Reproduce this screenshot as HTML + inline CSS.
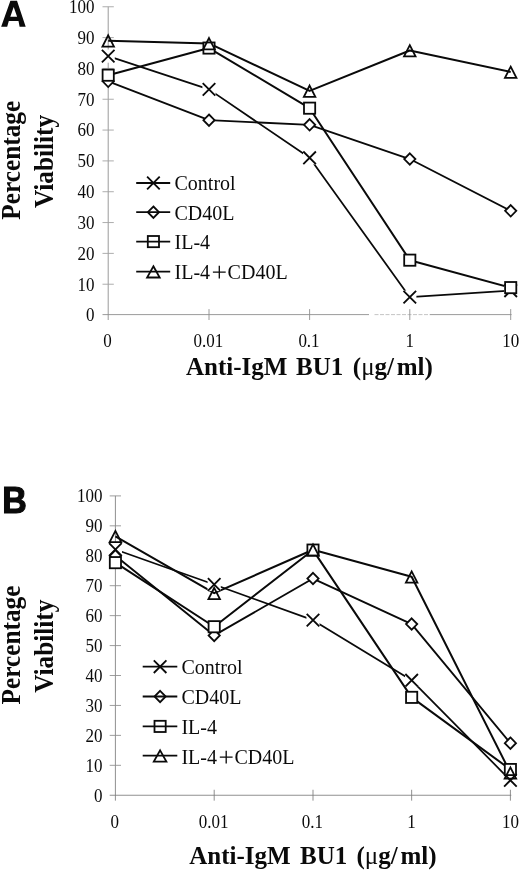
<!DOCTYPE html>
<html><head><meta charset="utf-8"><title>Figure</title>
<style>
html,body{margin:0;padding:0;background:#fff;}
body{width:520px;height:871px;overflow:hidden;font-family:"Liberation Serif",serif;}
svg{display:block;}
text{fill:#0a0a0a;}
</style></head><body>
<svg width="520" height="871" viewBox="0 0 520 871">
<defs><filter id="gray" filterUnits="userSpaceOnUse" x="0" y="0" width="520" height="871" color-interpolation-filters="sRGB"><feColorMatrix type="saturate" values="0"/></filter></defs>
<g filter="url(#gray)">
<rect width="520" height="871" fill="#fff"/>
<path fill="#0a0a0a" fill-rule="evenodd" d="M1.15 26.8L10.4 0.87H17L25.7 26.8H19.6L18.5 21.06H8.8L7.2 26.8ZM13.7 6.9L17.1 16.7H10.3Z"/>
<g stroke="#8e8e8e" stroke-width="0.9" fill="none"><path d="M108.2 6.75V320.00"/><path d="M102.50 314.6H369.0M430.0 314.6H511.60"/><path d="M374.5 314.6H430.0" stroke="#bdbdbd" stroke-dasharray="4 1.5"/><path d="M102.50 6.75H113.80" stroke="#a4a4a4"/><path d="M102.50 37.58H113.80" stroke="#a4a4a4"/><path d="M102.50 68.41H113.80" stroke="#a4a4a4"/><path d="M102.50 99.24H113.80" stroke="#a4a4a4"/><path d="M102.50 130.07H113.80" stroke="#a4a4a4"/><path d="M102.50 160.90H113.80" stroke="#a4a4a4"/><path d="M102.50 191.73H113.80" stroke="#a4a4a4"/><path d="M102.50 222.56H113.80" stroke="#a4a4a4"/><path d="M102.50 253.39H113.80" stroke="#a4a4a4"/><path d="M102.50 284.22H113.80" stroke="#a4a4a4"/><path d="M209.0 309.10V320.00"/><path d="M309.6 309.10V320.00"/><path d="M409.8 309.10V320.00"/><path d="M510.7 309.10V320.00"/></g>
<g font-family="Liberation Serif, serif" font-size="17" text-anchor="end"><text transform="translate(94.6 13.15) scale(1 1.05)">100</text><text transform="translate(94.6 43.98) scale(1 1.05)">90</text><text transform="translate(94.6 74.81) scale(1 1.05)">80</text><text transform="translate(94.6 105.64) scale(1 1.05)">70</text><text transform="translate(94.6 136.47) scale(1 1.05)">60</text><text transform="translate(94.6 167.30) scale(1 1.05)">50</text><text transform="translate(94.6 198.13) scale(1 1.05)">40</text><text transform="translate(94.6 228.96) scale(1 1.05)">30</text><text transform="translate(94.6 259.79) scale(1 1.05)">20</text><text transform="translate(94.6 290.62) scale(1 1.05)">10</text><text transform="translate(94.6 321.45) scale(1 1.05)">0</text></g>
<g font-family="Liberation Serif, serif" font-size="17" text-anchor="middle"><text transform="translate(107.60 347.0) scale(1 1.05)">0</text><text transform="translate(208.40 347.0) scale(1 1.05)">0.01</text><text transform="translate(309.00 347.0) scale(1 1.05)">0.1</text><text transform="translate(409.70 347.0) scale(1 1.05)">1</text><text transform="translate(510.80 347.0) scale(1 1.05)">10</text></g>
<g font-family="Liberation Serif, serif" font-weight="bold" font-size="25.3" text-anchor="middle"><text transform="translate(19.7 160.30) rotate(-90) scale(1 1.05)">Percentage</text><text transform="translate(52.5 161.50) rotate(-90) scale(1 1.05)">Viability</text></g>
<g font-family="Liberation Serif, serif" font-weight="bold" font-size="25"><text x="186.0" y="375.2">Anti-IgM</text><text x="296.1" y="375.2">BU1</text><text x="352.8" y="375.2">(<tspan font-weight="normal">&#956;</tspan>g/<tspan dx="2.8">ml)</tspan></text></g>
<polyline points="108.20,56.08 209.00,89.37 309.60,157.82 409.80,297.17 510.70,290.69" fill="none" stroke="#0a0a0a" stroke-width="1.75" stroke-linejoin="round"/>
<polyline points="108.20,81.36 209.00,120.20 309.60,124.83 409.80,159.05 510.70,210.84" fill="none" stroke="#0a0a0a" stroke-width="1.8" stroke-linejoin="round"/>
<polyline points="108.20,75.19 209.00,48.06 309.60,108.18 409.80,260.17 510.70,287.61" fill="none" stroke="#0a0a0a" stroke-width="2.0" stroke-linejoin="round"/>
<polyline points="108.20,40.66 209.00,43.44 309.60,90.92 409.80,50.53 510.70,71.96" fill="none" stroke="#0a0a0a" stroke-width="2.0" stroke-linejoin="round"/>
<rect x="101.60" y="49.48" width="13.2" height="13.2" fill="#fff"/><path d="M101.90 49.78L114.50 62.38M101.90 62.38L114.50 49.78" stroke="#0a0a0a" stroke-width="1.85" fill="none"/><rect x="202.40" y="82.77" width="13.2" height="13.2" fill="#fff"/><path d="M202.70 83.07L215.30 95.67M202.70 95.67L215.30 83.07" stroke="#0a0a0a" stroke-width="1.85" fill="none"/><rect x="303.00" y="151.22" width="13.2" height="13.2" fill="#fff"/><path d="M303.30 151.52L315.90 164.12M303.30 164.12L315.90 151.52" stroke="#0a0a0a" stroke-width="1.85" fill="none"/><rect x="403.20" y="290.57" width="13.2" height="13.2" fill="#fff"/><path d="M403.50 290.87L416.10 303.47M403.50 303.47L416.10 290.87" stroke="#0a0a0a" stroke-width="1.85" fill="none"/><rect x="504.10" y="284.09" width="13.2" height="13.2" fill="#fff"/><path d="M504.40 284.39L517.00 296.99M504.40 296.99L517.00 284.39" stroke="#0a0a0a" stroke-width="1.85" fill="none"/>
<path d="M108.20 75.66L113.80 81.36L108.20 87.06L102.60 81.36Z" stroke="#0a0a0a" stroke-width="1.8" fill="#fff" stroke-linejoin="miter"/><path d="M209.00 114.50L214.60 120.20L209.00 125.90L203.40 120.20Z" stroke="#0a0a0a" stroke-width="1.8" fill="#fff" stroke-linejoin="miter"/><path d="M309.60 119.13L315.20 124.83L309.60 130.53L304.00 124.83Z" stroke="#0a0a0a" stroke-width="1.8" fill="#fff" stroke-linejoin="miter"/><path d="M409.80 153.35L415.40 159.05L409.80 164.75L404.20 159.05Z" stroke="#0a0a0a" stroke-width="1.8" fill="#fff" stroke-linejoin="miter"/><path d="M510.70 205.14L516.30 210.84L510.70 216.54L505.10 210.84Z" stroke="#0a0a0a" stroke-width="1.8" fill="#fff" stroke-linejoin="miter"/>
<rect x="102.60" y="69.59" width="11.20" height="11.20" stroke="#0a0a0a" stroke-width="1.8" fill="#fff"/><rect x="203.40" y="42.46" width="11.20" height="11.20" stroke="#0a0a0a" stroke-width="1.8" fill="#fff"/><rect x="304.00" y="102.58" width="11.20" height="11.20" stroke="#0a0a0a" stroke-width="1.8" fill="#fff"/><rect x="404.20" y="254.57" width="11.20" height="11.20" stroke="#0a0a0a" stroke-width="1.8" fill="#fff"/><rect x="505.10" y="282.01" width="11.20" height="11.20" stroke="#0a0a0a" stroke-width="1.8" fill="#fff"/>
<path d="M108.20 35.31L113.95 46.56L102.45 46.56Z" stroke="#0a0a0a" stroke-width="1.8" fill="none" stroke-linejoin="miter"/><path d="M209.00 38.09L214.75 49.34L203.25 49.34Z" stroke="#0a0a0a" stroke-width="1.8" fill="none" stroke-linejoin="miter"/><path d="M309.60 85.57L315.35 96.82L303.85 96.82Z" stroke="#0a0a0a" stroke-width="1.8" fill="none" stroke-linejoin="miter"/><path d="M409.80 45.18L415.55 56.43L404.05 56.43Z" stroke="#0a0a0a" stroke-width="1.8" fill="none" stroke-linejoin="miter"/><path d="M510.70 66.61L516.45 77.86L504.95 77.86Z" stroke="#0a0a0a" stroke-width="1.8" fill="none" stroke-linejoin="miter"/>
<path d="M147.10 176.70L159.70 189.30M147.10 189.30L159.70 176.70" stroke="#0a0a0a" stroke-width="1.85" fill="none"/>
<path d="M136.2 183.0H170.2" stroke="#0a0a0a" stroke-width="1.8"/>
<text x="174.5" y="190.30" font-family="Liberation Serif, serif" font-size="20">Control</text>
<path d="M153.40 206.50L159.00 212.20L153.40 217.90L147.80 212.20Z" stroke="#0a0a0a" stroke-width="1.8" fill="none" stroke-linejoin="miter"/>
<path d="M136.2 212.2H170.2" stroke="#0a0a0a" stroke-width="1.8"/>
<text x="174.5" y="219.50" font-family="Liberation Serif, serif" font-size="20">CD40L</text>
<rect x="147.80" y="236.00" width="11.20" height="11.20" stroke="#0a0a0a" stroke-width="1.8" fill="none"/>
<path d="M136.2 241.6H170.2" stroke="#0a0a0a" stroke-width="1.8"/>
<text x="174.5" y="248.90" font-family="Liberation Serif, serif" font-size="20">IL-4</text>
<path d="M153.40 266.25L159.70 277.50L147.10 277.50Z" stroke="#0a0a0a" stroke-width="1.8" fill="none" stroke-linejoin="miter"/>
<path d="M136.2 271.6H170.2" stroke="#0a0a0a" stroke-width="1.8"/>
<g font-family="Liberation Serif, serif" font-size="20"><text x="174.5" y="278.90">IL-4</text><path d="M212.90 272.20h12.8M219.30 265.80v12.8" stroke="#0a0a0a" stroke-width="1.3" fill="none"/><text x="227.60" y="278.90">CD40L</text></g>
<text transform="translate(2.15 512.95) scale(1 1.065)" font-family="Liberation Sans, sans-serif" font-weight="bold" font-size="34" stroke="#0a0a0a" stroke-width="1.1" stroke-linejoin="miter">B</text>
<g stroke="#7c7c7c" stroke-width="0.85" fill="none"><path d="M115.4 495.9V800.65"/><path d="M109.70 795.25H511.30"/><path d="M109.70 495.90H121.00" stroke="#8c8c8c"/><path d="M109.70 525.84H121.00" stroke="#8c8c8c"/><path d="M109.70 555.77H121.00" stroke="#8c8c8c"/><path d="M109.70 585.70H121.00" stroke="#8c8c8c"/><path d="M109.70 615.64H121.00" stroke="#8c8c8c"/><path d="M109.70 645.58H121.00" stroke="#8c8c8c"/><path d="M109.70 675.51H121.00" stroke="#8c8c8c"/><path d="M109.70 705.44H121.00" stroke="#8c8c8c"/><path d="M109.70 735.38H121.00" stroke="#8c8c8c"/><path d="M109.70 765.32H121.00" stroke="#8c8c8c"/><path d="M214.2 789.75V800.65"/><path d="M313.0 789.75V800.65"/><path d="M411.65 789.75V800.65"/><path d="M510.4 789.75V800.65"/></g>
<g font-family="Liberation Serif, serif" font-size="17" text-anchor="end"><text transform="translate(102.4 502.30) scale(1 1.06)">100</text><text transform="translate(102.4 532.24) scale(1 1.06)">90</text><text transform="translate(102.4 562.17) scale(1 1.06)">80</text><text transform="translate(102.4 592.10) scale(1 1.06)">70</text><text transform="translate(102.4 622.04) scale(1 1.06)">60</text><text transform="translate(102.4 651.98) scale(1 1.06)">50</text><text transform="translate(102.4 681.91) scale(1 1.06)">40</text><text transform="translate(102.4 711.84) scale(1 1.06)">30</text><text transform="translate(102.4 741.78) scale(1 1.06)">20</text><text transform="translate(102.4 771.72) scale(1 1.06)">10</text><text transform="translate(102.4 801.65) scale(1 1.06)">0</text></g>
<g font-family="Liberation Serif, serif" font-size="17" text-anchor="middle"><text transform="translate(114.80 827.6) scale(1 1.06)">0</text><text transform="translate(213.60 827.6) scale(1 1.06)">0.01</text><text transform="translate(312.40 827.6) scale(1 1.06)">0.1</text><text transform="translate(411.55 827.6) scale(1 1.06)">1</text><text transform="translate(510.50 827.6) scale(1 1.06)">10</text></g>
<g font-family="Liberation Serif, serif" font-weight="bold" font-size="25.3" text-anchor="middle"><text transform="translate(20.4 644.98) rotate(-90) scale(1 1.05)">Percentage</text><text transform="translate(52.9 646.18) rotate(-90) scale(1 1.05)">Viability</text></g>
<g font-family="Liberation Serif, serif" font-weight="bold" font-size="25"><text x="189.3" y="863.7">Anti-IgM</text><text x="300.1" y="863.7">BU1</text><text x="356.4" y="863.7">(<tspan font-weight="normal">&#956;</tspan>g/<tspan dx="2.8">ml)</tspan></text></g>
<polyline points="115.40,549.48 214.20,584.51 313.00,620.13 411.65,680.30 510.40,780.28" fill="none" stroke="#0a0a0a" stroke-width="1.75" stroke-linejoin="round"/>
<polyline points="115.40,555.77 214.20,635.40 313.00,578.52 411.65,624.02 510.40,743.16" fill="none" stroke="#0a0a0a" stroke-width="1.9" stroke-linejoin="round"/>
<polyline points="115.40,562.66 214.20,626.72 313.00,550.08 411.65,697.36 510.40,769.51" fill="none" stroke="#0a0a0a" stroke-width="2.0" stroke-linejoin="round"/>
<polyline points="115.40,536.31 214.20,593.19 313.00,549.78 411.65,576.72 510.40,772.80" fill="none" stroke="#0a0a0a" stroke-width="2.0" stroke-linejoin="round"/>
<rect x="108.80" y="542.88" width="13.2" height="13.2" fill="#fff"/><path d="M109.10 543.18L121.70 555.78M109.10 555.78L121.70 543.18" stroke="#0a0a0a" stroke-width="1.85" fill="none"/><rect x="207.60" y="577.91" width="13.2" height="13.2" fill="#fff"/><path d="M207.90 578.21L220.50 590.81M207.90 590.81L220.50 578.21" stroke="#0a0a0a" stroke-width="1.85" fill="none"/><rect x="306.40" y="613.53" width="13.2" height="13.2" fill="#fff"/><path d="M306.70 613.83L319.30 626.43M306.70 626.43L319.30 613.83" stroke="#0a0a0a" stroke-width="1.85" fill="none"/><rect x="405.05" y="673.70" width="13.2" height="13.2" fill="#fff"/><path d="M405.35 674.00L417.95 686.60M405.35 686.60L417.95 674.00" stroke="#0a0a0a" stroke-width="1.85" fill="none"/><rect x="503.80" y="773.68" width="13.2" height="13.2" fill="#fff"/><path d="M504.10 773.98L516.70 786.58M504.10 786.58L516.70 773.98" stroke="#0a0a0a" stroke-width="1.85" fill="none"/>
<path d="M115.40 550.07L121.00 555.77L115.40 561.47L109.80 555.77Z" stroke="#0a0a0a" stroke-width="1.8" fill="#fff" stroke-linejoin="miter"/><path d="M214.20 629.70L219.80 635.40L214.20 641.10L208.60 635.40Z" stroke="#0a0a0a" stroke-width="1.8" fill="#fff" stroke-linejoin="miter"/><path d="M313.00 572.82L318.60 578.52L313.00 584.22L307.40 578.52Z" stroke="#0a0a0a" stroke-width="1.8" fill="#fff" stroke-linejoin="miter"/><path d="M411.65 618.32L417.25 624.02L411.65 629.72L406.05 624.02Z" stroke="#0a0a0a" stroke-width="1.8" fill="#fff" stroke-linejoin="miter"/><path d="M510.40 737.46L516.00 743.16L510.40 748.86L504.80 743.16Z" stroke="#0a0a0a" stroke-width="1.8" fill="#fff" stroke-linejoin="miter"/>
<rect x="109.80" y="557.06" width="11.20" height="11.20" stroke="#0a0a0a" stroke-width="1.8" fill="#fff"/><rect x="208.60" y="621.12" width="11.20" height="11.20" stroke="#0a0a0a" stroke-width="1.8" fill="#fff"/><rect x="307.40" y="544.48" width="11.20" height="11.20" stroke="#0a0a0a" stroke-width="1.8" fill="#fff"/><rect x="406.05" y="691.76" width="11.20" height="11.20" stroke="#0a0a0a" stroke-width="1.8" fill="#fff"/><rect x="504.80" y="763.91" width="11.20" height="11.20" stroke="#0a0a0a" stroke-width="1.8" fill="#fff"/>
<path d="M115.40 530.96L121.15 542.21L109.65 542.21Z" stroke="#0a0a0a" stroke-width="1.8" fill="none" stroke-linejoin="miter"/><path d="M214.20 587.84L219.95 599.09L208.45 599.09Z" stroke="#0a0a0a" stroke-width="1.8" fill="none" stroke-linejoin="miter"/><path d="M313.00 544.43L318.75 555.68L307.25 555.68Z" stroke="#0a0a0a" stroke-width="1.8" fill="none" stroke-linejoin="miter"/><path d="M411.65 571.37L417.40 582.62L405.90 582.62Z" stroke="#0a0a0a" stroke-width="1.8" fill="none" stroke-linejoin="miter"/><path d="M510.40 767.45L516.15 778.70L504.65 778.70Z" stroke="#0a0a0a" stroke-width="1.8" fill="none" stroke-linejoin="miter"/>
<path d="M153.80 660.40L166.40 673.00M153.80 673.00L166.40 660.40" stroke="#0a0a0a" stroke-width="1.85" fill="none"/>
<path d="M142.7 666.7H177.3" stroke="#0a0a0a" stroke-width="1.8"/>
<text x="181.4" y="674.00" font-family="Liberation Serif, serif" font-size="20">Control</text>
<path d="M160.10 690.80L165.70 696.50L160.10 702.20L154.50 696.50Z" stroke="#0a0a0a" stroke-width="1.8" fill="none" stroke-linejoin="miter"/>
<path d="M142.7 696.5H177.3" stroke="#0a0a0a" stroke-width="1.8"/>
<text x="181.4" y="703.70" font-family="Liberation Serif, serif" font-size="20">CD40L</text>
<rect x="154.50" y="720.80" width="11.20" height="11.20" stroke="#0a0a0a" stroke-width="1.8" fill="none"/>
<path d="M142.7 726.4H177.3" stroke="#0a0a0a" stroke-width="1.8"/>
<text x="181.4" y="733.70" font-family="Liberation Serif, serif" font-size="20">IL-4</text>
<path d="M160.10 750.35L166.40 761.60L153.80 761.60Z" stroke="#0a0a0a" stroke-width="1.8" fill="none" stroke-linejoin="miter"/>
<path d="M142.7 755.7H177.3" stroke="#0a0a0a" stroke-width="1.8"/>
<g font-family="Liberation Serif, serif" font-size="20"><text x="181.4" y="763.80">IL-4</text><path d="M219.80 757.10h12.8M226.20 750.70v12.8" stroke="#0a0a0a" stroke-width="1.3" fill="none"/><text x="234.50" y="763.80">CD40L</text></g>
</g>
</svg>
</body></html>
